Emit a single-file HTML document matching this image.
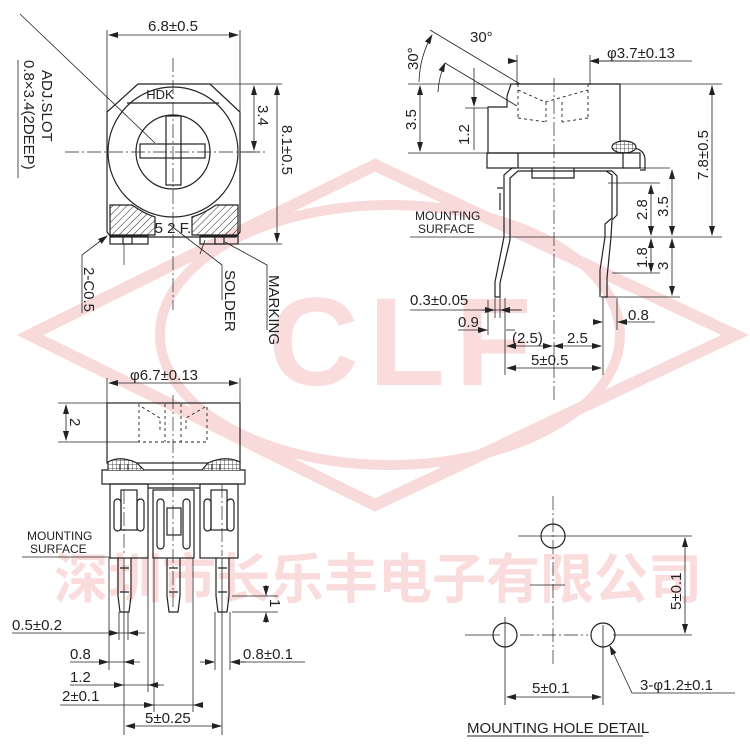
<!DOCTYPE html>
<html><head><meta charset="utf-8"><style>
html,body{margin:0;padding:0;background:#fff}
svg{display:block}
text{font-family:"Liberation Sans Narrow","Liberation Sans",sans-serif;fill:#222}
</style></head><body>
<svg width="750" height="750" viewBox="0 0 750 750" xmlns="http://www.w3.org/2000/svg">
<defs>
<pattern id="h" width="5" height="5" patternUnits="userSpaceOnUse" patternTransform="rotate(45)"><line x1="0" y1="0" x2="0" y2="5" stroke="#222" stroke-width="1"/></pattern>
<pattern id="k" width="4" height="4" patternUnits="userSpaceOnUse"><rect width="4" height="4" fill="#fff"/><path d="M0 0H4M0 0V4" stroke="#222" stroke-width="0.8"/></pattern>
<marker id="a" markerWidth="10" markerHeight="6" refX="9" refY="3" orient="auto-start-reverse" markerUnits="userSpaceOnUse"><path d="M0 0L10 3L0 6z" fill="#222"/></marker>
</defs>
<!-- watermark -->
<g fill="none" stroke="#f9dada" stroke-width="12">
<path d="M30 335L375 165L735 335L375 505Z"/>
<ellipse cx="390" cy="335" rx="230" ry="130" stroke-width="10"/>
</g>
<g font-weight="bold">
<text x="405" y="385" font-size="125" text-anchor="middle" style="fill:#fadcdc;font-family:'Liberation Sans';letter-spacing:10px">CLF</text>
<text x="378" y="598" font-size="54" text-anchor="middle" style="fill:#fadcdc;font-family:'Liberation Sans','Noto Sans CJK SC',sans-serif;font-weight:bold">深圳市长乐丰电子有限公司</text>
</g>

<g stroke="#222" stroke-width="1.2" fill="none">
<!-- TOP LEFT VIEW -->
<path d="M138 84H210L240 112V232L236 237H111L107 232V112Z" fill="none"/>
<line x1="127" y1="103" x2="219" y2="103"/>
<circle cx="173" cy="152" r="65"/>
<circle cx="173" cy="152" r="37"/>
<rect x="140" y="144" width="65" height="14"/>
<rect x="166" y="116" width="15" height="69"/>
<path d="M110 205H132Q145 214 155 217V235H110Z" fill="url(#h)"/>
<path d="M238 205H216Q203 214 192 217V235H238Z" fill="url(#h)"/>
<rect x="110" y="236" width="38" height="8"/><rect x="123" y="236" width="9" height="8"/>
<rect x="200" y="236" width="38" height="8"/><rect x="215" y="236" width="9" height="8"/>
<g stroke-width="0.8">
<line x1="107" y1="30" x2="107" y2="112"/><line x1="240" y1="30" x2="240" y2="112"/>
<line x1="109" y1="35" x2="238" y2="35" marker-start="url(#a)" marker-end="url(#a)"/>
<line x1="210" y1="84" x2="282" y2="84"/><line x1="240" y1="152" x2="260" y2="152"/><line x1="238" y1="244" x2="282" y2="244"/>
<line x1="254" y1="86" x2="254" y2="150" marker-start="url(#a)" marker-end="url(#a)"/>
<line x1="277" y1="86" x2="277" y2="242" marker-start="url(#a)" marker-end="url(#a)"/>
<line x1="20" y1="14" x2="155" y2="143"/>
<path d="M82 313V255L107 236" marker-end="url(#a)"/>
<path d="M170 225L222 265V300"/><path d="M205 240L200 254"/>
<path d="M225 242L267 265V330"/>
<line x1="18" y1="60" x2="18" y2="178"/>
</g>
<g stroke-dasharray="14 3 2 3" stroke-width="0.7">
<line x1="173" y1="58" x2="173" y2="310"/><line x1="65" y1="152" x2="265" y2="152"/>
</g>
<line x1="124" y1="244" x2="124" y2="265" stroke-width="0.7"/>

<!-- TOP RIGHT VIEW -->
<path d="M511 84H620V153H488V107H507V96Z"/>
<rect x="487" y="153" width="136" height="15"/>
<line x1="518" y1="153" x2="518" y2="168"/>
<path d="M620 153H640V168H623"/><path d="M634 148Q645 150 645 160V170H640"/>
<ellipse cx="624" cy="147" rx="12" ry="6" fill="url(#k)"/>
<path d="M532 168V178H574V168"/>
<path d="M516 168H512L504 175V237L495 282V297H500V283L510 240V178L518 171H606L612 175V218L605 224V237L600 270V297"/>
<path d="M606 171H612L617 176V215L612 220L611 237L607 278V297H601"/>
<line x1="500" y1="193" x2="500" y2="210"/><line x1="503" y1="188" x2="497" y2="188"/>
<g stroke-dasharray="3 3" stroke-width="0.9">
<path d="M518 84V118M588 84V118M518 90L545 102L588 90M546 102V122M562 102V122M518 118L546 122M588 118L562 122"/>
</g>
<g stroke-width="0.8">
<line x1="517" y1="55" x2="517" y2="85"/><line x1="590" y1="55" x2="590" y2="85"/>
<line x1="509" y1="61" x2="517" y2="61" marker-end="url(#a)"/><line x1="640" y1="61" x2="590" y2="61" marker-end="url(#a)"/><line x1="590" y1="61" x2="692" y2="61"/>
<line x1="408" y1="84" x2="511" y2="84"/><line x1="408" y1="153" x2="488" y2="153"/>
<line x1="420" y1="86" x2="420" y2="151" marker-start="url(#a)" marker-end="url(#a)"/>
<line x1="465" y1="108" x2="488" y2="108"/>
<line x1="474" y1="68" x2="474" y2="106" marker-end="url(#a)"/><line x1="474" y1="108" x2="474" y2="150"/>
<line x1="430" y1="30" x2="520" y2="84"/><line x1="445" y1="63" x2="517" y2="106"/>
<path d="M419 82A100 100 0 0 1 432 35" marker-end="url(#a)"/>
<path d="M438 92A80 80 0 0 1 445 63" marker-end="url(#a)"/>
<line x1="620" y1="84" x2="722" y2="84"/>
<line x1="712" y1="86" x2="712" y2="235" marker-start="url(#a)" marker-end="url(#a)"/>
<line x1="410" y1="237" x2="722" y2="237"/>
<line x1="623" y1="168" x2="670" y2="168"/>
<line x1="608" y1="183" x2="660" y2="183"/>
<line x1="651" y1="185" x2="651" y2="235" marker-start="url(#a)" marker-end="url(#a)"/>
<line x1="672" y1="170" x2="672" y2="235" marker-start="url(#a)" marker-end="url(#a)"/>
<line x1="651" y1="239" x2="651" y2="272" marker-start="url(#a)" marker-end="url(#a)"/>
<line x1="612" y1="273" x2="660" y2="273"/>
<line x1="672" y1="239" x2="672" y2="295" marker-start="url(#a)" marker-end="url(#a)"/>
<line x1="605" y1="297" x2="680" y2="297"/>
<line x1="410" y1="310" x2="520" y2="310"/><line x1="495" y1="298" x2="495" y2="318"/><line x1="500" y1="298" x2="500" y2="318"/>
<line x1="482" y1="310" x2="494" y2="310" marker-end="url(#a)"/><line x1="522" y1="310" x2="501" y2="310" marker-end="url(#a)"/>
<line x1="458" y1="330" x2="485" y2="330"/><line x1="488" y1="300" x2="488" y2="335"/>
<line x1="478" y1="330" x2="487" y2="330" marker-end="url(#a)"/><line x1="515" y1="330" x2="506" y2="330"/>
<line x1="505" y1="298" x2="505" y2="375"/><line x1="603" y1="298" x2="603" y2="375"/><line x1="617" y1="298" x2="617" y2="330"/>
<line x1="595" y1="322" x2="602" y2="322" marker-end="url(#a)"/><line x1="625" y1="322" x2="618" y2="322" marker-end="url(#a)"/><line x1="618" y1="322" x2="655" y2="322"/>
<line x1="507" y1="346" x2="552" y2="346" marker-start="url(#a)" marker-end="url(#a)"/>
<line x1="554" y1="346" x2="601" y2="346" marker-start="url(#a)" marker-end="url(#a)"/>
<line x1="507" y1="368" x2="601" y2="368" marker-start="url(#a)" marker-end="url(#a)"/>
</g>
<line x1="554" y1="78" x2="554" y2="400" stroke-width="0.7" stroke-dasharray="14 3 2 3"/>

<!-- BOTTOM LEFT VIEW -->
<rect x="107" y="403" width="133" height="60"/>
<path d="M102 470H245V484H102Z"/>
<path d="M108 470V462Q120 455 137 463L144 470" fill="url(#k)"/>
<path d="M202 470L208 463Q225 455 240 462V470" fill="url(#k)"/>
<path d="M120 464V470M128 464V470M212 464V470M220 464V470"/>
<rect x="110" y="484" width="38" height="74"/><rect x="153" y="490" width="41" height="68"/><rect x="200" y="484" width="38" height="74"/>
<line x1="148" y1="488" x2="200" y2="488"/>
<rect x="114" y="499" width="7" height="32" rx="3.5"/><rect x="137" y="499" width="7" height="32" rx="3.5"/>
<rect x="157" y="499" width="7" height="50" rx="3.5"/><rect x="183" y="499" width="7" height="50" rx="3.5"/>
<rect x="204" y="499" width="7" height="32" rx="3.5"/><rect x="227" y="499" width="7" height="32" rx="3.5"/>
<rect x="121" y="490" width="16" height="40"/><rect x="211" y="490" width="16" height="40"/>
<rect x="167" y="508" width="14" height="27"/>
<path d="M118 558L118 596L120 612H129L131 596L131 558"/>
<path d="M167 558L167 596L169 612H178L180 596L180 558"/>
<path d="M216 558L216 596L218 612H227L229 596L229 558"/>
<path d="M120 568H129M120 592H129M169 568H178M169 592H178M218 568H227M218 592H227"/>
<g stroke-dasharray="3 3" stroke-width="0.9">
<path d="M139 404V442H207V404M165 404V442M181 404V442M142 407L160 418V430M205 407L186 418V430"/>
</g>
<g stroke-width="0.8">
<line x1="107" y1="378" x2="107" y2="403"/><line x1="240" y1="378" x2="240" y2="403"/>
<line x1="109" y1="383" x2="238" y2="383" marker-start="url(#a)" marker-end="url(#a)"/>
<line x1="58" y1="403" x2="107" y2="403"/><line x1="58" y1="442" x2="139" y2="442"/>
<line x1="66" y1="405" x2="66" y2="440" marker-start="url(#a)" marker-end="url(#a)"/>
<line x1="22" y1="557" x2="110" y2="557"/>
<line x1="232" y1="596" x2="278" y2="596"/><line x1="232" y1="612" x2="278" y2="612"/>
<line x1="266" y1="585" x2="266" y2="595" marker-end="url(#a)"/><line x1="266" y1="623" x2="266" y2="613" marker-end="url(#a)"/>
<line x1="119" y1="612" x2="119" y2="640"/><line x1="128" y1="612" x2="128" y2="640"/>
<line x1="12" y1="633" x2="145" y2="633"/>
<line x1="110" y1="633" x2="118" y2="633" marker-end="url(#a)"/><line x1="137" y1="633" x2="129" y2="633" marker-end="url(#a)"/>
<line x1="109" y1="558" x2="109" y2="670"/><line x1="124" y1="558" x2="124" y2="735"/>
<line x1="70" y1="662" x2="140" y2="662"/><line x1="100" y1="662" x2="108" y2="662" marker-end="url(#a)"/><line x1="133" y1="662" x2="125" y2="662" marker-end="url(#a)"/>
<line x1="148" y1="558" x2="148" y2="692"/><line x1="154" y1="558" x2="154" y2="712"/>
<line x1="70" y1="685" x2="164" y2="685"/><line x1="115" y1="685" x2="123" y2="685" marker-end="url(#a)"/><line x1="160" y1="685" x2="149" y2="685" marker-end="url(#a)"/>
<line x1="60" y1="705" x2="202" y2="705"/><line x1="144" y1="705" x2="153" y2="705" marker-end="url(#a)"/><line x1="202" y1="705" x2="194" y2="705" marker-end="url(#a)"/>
<line x1="193" y1="558" x2="193" y2="712"/>
<line x1="126" y1="726" x2="221" y2="726" marker-start="url(#a)" marker-end="url(#a)"/>
<line x1="222" y1="558" x2="222" y2="735"/>
<line x1="215" y1="612" x2="215" y2="670"/><line x1="230" y1="612" x2="230" y2="670"/>
<line x1="200" y1="662" x2="214" y2="662" marker-end="url(#a)"/><line x1="246" y1="662" x2="231" y2="662" marker-end="url(#a)"/><line x1="231" y1="662" x2="305" y2="662"/>
</g>
<g stroke-dasharray="14 3 2 3" stroke-width="0.7"><line x1="173" y1="395" x2="173" y2="610"/><line x1="124" y1="490" x2="124" y2="556"/><line x1="222" y1="484" x2="222" y2="556"/></g>

<!-- MOUNTING HOLE DETAIL -->
<circle cx="553" cy="536" r="12"/><circle cx="505" cy="635" r="12"/><circle cx="603" cy="635" r="12"/>
<g stroke-width="0.8">
<line x1="518" y1="536" x2="692" y2="536"/><line x1="613" y1="635" x2="692" y2="635"/>
<line x1="685" y1="538" x2="685" y2="633" marker-start="url(#a)" marker-end="url(#a)"/>
<line x1="505" y1="617" x2="505" y2="705"/><line x1="603" y1="625" x2="603" y2="705"/>
<line x1="507" y1="697" x2="601" y2="697" marker-start="url(#a)" marker-end="url(#a)"/>
<path d="M735 693H632L610 646" marker-end="url(#a)"/>
<line x1="465" y1="635" x2="500" y2="635"/><line x1="530" y1="585" x2="565" y2="585"/>
</g>
<g stroke-dasharray="14 3 2 3" stroke-width="0.7"><line x1="553" y1="496" x2="553" y2="665"/><line x1="520" y1="635" x2="588" y2="635"/></g>
<line x1="467" y1="736" x2="643" y2="736" stroke-width="0.9"/>
</g>

<g font-size="15">
<text x="173" y="31" text-anchor="middle">6.8±0.5</text>
<text x="160" y="99" font-size="13" text-anchor="middle">HDK</text>
<text x="173" y="233" text-anchor="middle" font-size="15">5 2 F.</text>
<text transform="translate(258,105) rotate(90)">3.4</text>
<text transform="translate(282,125) rotate(90)">8.1±0.5</text>
<text transform="translate(42,70) rotate(90)">ADJ.SLOT</text>
<text transform="translate(24,60) rotate(90)">0.8×3.4(2DEEP)</text>
<text transform="translate(84,267) rotate(90)">2-C0.5</text>
<text transform="translate(225,270) rotate(90)">SOLDER</text>
<text transform="translate(269,275) rotate(90)">MARKING</text>
<text x="470" y="42">30°</text>
<text transform="translate(418,70) rotate(-90)">30°</text>
<text x="607" y="58">φ3.7±0.13</text>
<text transform="translate(416,130) rotate(-90)">3.5</text>
<text transform="translate(469,145) rotate(-90)">1.2</text>
<text transform="translate(708,180) rotate(-90)">7.8±0.5</text>
<text transform="translate(647,220) rotate(-90)">2.8</text>
<text transform="translate(668,217) rotate(-90)">3.5</text>
<text transform="translate(647,268) rotate(-90)">1.8</text>
<text transform="translate(668,270) rotate(-90)">3</text>
<text x="415" y="220" font-size="12">MOUNTING</text>
<text x="418" y="233" font-size="12">SURFACE</text>
<text x="410" y="305">0.3±0.05</text>
<text x="458" y="327">0.9</text>
<text x="512" y="343">(2.5)</text>
<text x="567" y="343">2.5</text>
<text x="531" y="365">5±0.5</text>
<text x="628" y="320">0.8</text>
<text x="130" y="380">φ6.7±0.13</text>
<text transform="translate(70,418) rotate(90)">2</text>
<text x="27" y="540" font-size="12">MOUNTING</text>
<text x="30" y="553" font-size="12">SURFACE</text>
<text transform="translate(270,599) rotate(90)">1</text>
<text x="12" y="630">0.5±0.2</text>
<text x="70" y="659">0.8</text>
<text x="70" y="682">1.2</text>
<text x="62" y="701">2±0.1</text>
<text x="145" y="723">5±0.25</text>
<text x="243" y="659">0.8±0.1</text>
<text transform="translate(681,610) rotate(-90)">5±0.1</text>
<text x="532" y="693">5±0.1</text>
<text x="640" y="690">3-φ1.2±0.1</text>
<text x="467" y="733">MOUNTING HOLE DETAIL</text>
</g>
</svg>
</body></html>
